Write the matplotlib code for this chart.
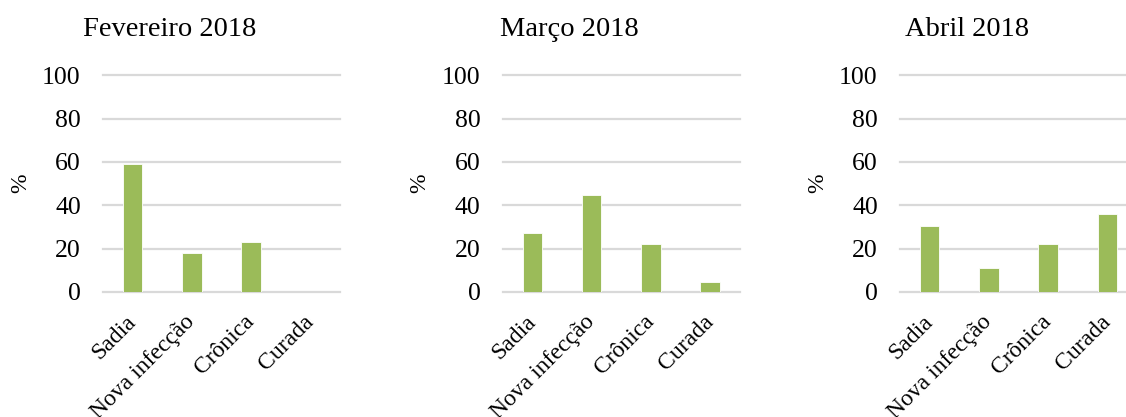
import matplotlib
matplotlib.use("Agg")
import matplotlib.pyplot as plt

plt.rcParams["font.family"] = ["Liberation Serif", "DejaVu Serif"]

categorias = ["Sadia", "Nova infecção", "Crônica", "Curada"]
meses = ["Fevereiro 2018", "Março 2018", "Abril 2018"]
fevereiro = [59, 18, 23, 0]
marco = [27.2, 44.8, 22.3, 4.8]
abril = [30.3, 10.9, 22, 36]
yticks = [0, 20, 40, 60, 80, 100]

series = [fevereiro, marco, abril]

W, H = 1126, 417
fig = plt.figure(figsize=(W / 100, H / 100), dpi=100)

lefts = [103, 502.7, 900]
ax_w = 237
ax_top, ax_bottom = 75.3, 292

verde = "#9BBB59"
grade = "#D9D9D9"

for left, mes, valores in zip(lefts, meses, series):
    ax = fig.add_axes([left / W, (H - ax_bottom) / H, ax_w / W, (ax_bottom - ax_top) / H])
    x = range(len(categorias))
    ax.bar(x, valores, width=0.33, color=verde, edgecolor="white", linewidth=0.6, zorder=3)
    ax.set_xlim(-0.5, len(categorias) - 0.5)
    ax.set_ylim(0, 100)
    ax.set_yticks(yticks)
    ax.set_yticklabels([str(v) for v in yticks], fontsize=18.5)
    ax.set_xticks(list(x))
    ax.set_xticklabels(categorias, fontsize=17, rotation=45, ha="right",
                       rotation_mode="anchor", va="center")
    ax.tick_params(axis="y", length=0, pad=16)
    ax.tick_params(axis="x", length=0, pad=19)
    ax.grid(axis="y", color=grade, linewidth=1.6, zorder=0)
    for gl in ax.get_ygridlines():
        gl.set_clip_on(False)
    for s in ax.spines.values():
        s.set_visible(False)
    ax.set_ylabel("%", fontsize=17, labelpad=8)
    ax.patch.set_alpha(0)

    # título centrado sobre a área do gráfico, não sobre os eixos
    fig.text((left + ax_w / 2 - 51.5) / W, (H - 35.7) / H, mes,
             fontsize=20.5, ha="center", va="baseline")

fig.savefig("out.png", dpi=100, facecolor="white")
